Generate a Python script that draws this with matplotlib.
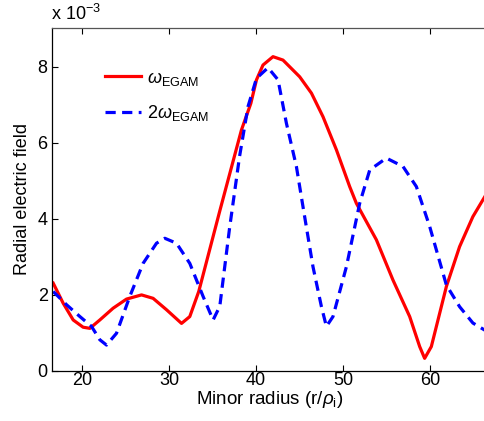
import matplotlib
matplotlib.use('Agg')
import matplotlib.pyplot as plt

# ── Data (field in units of 1e-3) ──────────────────────────────────────────
r_egam = [16.67, 17.82, 18.97, 20.11, 20.89, 22.03, 23.56, 25.10, 26.83, 28.16,
          29.70, 31.43, 32.38, 33.41, 35.83, 38.32, 39.40, 40.05, 40.80, 41.95,
          43.10, 45.02, 46.37, 47.70, 49.24, 50.77, 51.54, 53.84, 55.75, 57.67,
          58.82, 59.39, 60.16, 61.89, 63.41, 64.94, 66.40]
e_egam = [2.31, 1.78, 1.34, 1.15, 1.12, 1.34, 1.65, 1.89, 2.00, 1.91,
          1.61, 1.25, 1.43, 2.09, 4.21, 6.34, 7.04, 7.66, 8.05, 8.27,
          8.18, 7.74, 7.31, 6.69, 5.82, 4.85, 4.41, 3.45, 2.39, 1.43,
          0.64, 0.33, 0.64, 2.22, 3.27, 4.06, 4.62]

r_2egam = [16.67, 18.21, 19.74, 21.08, 22.03, 22.80, 23.95, 25.48, 27.01, 28.55,
           29.51, 30.85, 32.38, 33.91, 35.06, 35.83, 36.95, 38.10, 39.08, 40.05,
           41.38, 42.53, 43.49, 44.64, 45.40, 46.55, 47.52, 48.09, 48.85, 50.39,
           51.92, 53.08, 54.99, 56.90, 58.44, 59.97, 61.89, 63.41, 64.94, 66.40]
e_2egam = [2.09, 1.74, 1.43, 1.17, 0.82, 0.68, 0.99, 1.96, 2.83, 3.36,
           3.49, 3.36, 2.83, 1.96, 1.34, 1.70, 3.75, 5.64, 6.96, 7.70,
           7.98, 7.66, 6.52, 5.38, 4.32, 2.74, 1.69, 1.17, 1.43, 2.74,
           4.41, 5.29, 5.60, 5.38, 4.85, 3.80, 2.26, 1.69, 1.26, 1.06]

x_ticks = [20, 30, 40, 50, 60]
y_ticks = [0, 2, 4, 6, 8]

# ── Style ──────────────────────────────────────────────────────────────────
plt.rcParams['font.family'] = ['Liberation Sans', 'DejaVu Sans']
plt.rcParams['mathtext.fontset'] = 'custom'
plt.rcParams['mathtext.rm'] = 'Liberation Sans'
plt.rcParams['mathtext.it'] = 'Liberation Sans:italic'

fig = plt.figure(figsize=(4.85, 4.21), dpi=100)
ax = fig.add_axes([0.107, 0.119, 0.896, 0.815])

ax.plot(r_egam, e_egam, color='#ff0000', lw=2.3, label=r'$\omega_{\mathrm{EGAM}}$')
ax.plot(r_2egam, e_2egam, color='#0000ff', lw=2.3, dashes=(3.2, 2.0),
        label=r'$2\omega_{\mathrm{EGAM}}$')

ax.set_xlim(16.52, 66.5)
ax.set_ylim(0, 9.03)
ax.set_xticks(x_ticks)
ax.set_yticks(y_ticks)
ax.tick_params(direction='in', length=4, width=0.8, top=True, right=False,
               labelsize=13)
ax.tick_params(axis='x', pad=1)
ax.tick_params(axis='y', pad=3)
for s in ax.spines.values():
    s.set_linewidth(0.9)
ax.spines['top'].set_color('#555555')
ax.spines['right'].set_visible(False)

ax.set_xlabel(r'Minor radius (r/$\rho_{\mathrm{i}}$)', fontsize=13.5, labelpad=0)
ax.set_ylabel('Radial electric field', fontsize=13, labelpad=5)
fig.text(0.105, 0.942, r'x 10$^{-3}$', fontsize=13, ha='left', va='bottom')

ax.legend(loc='upper left', bbox_to_anchor=(0.085, 0.925), frameon=False,
          fontsize=13, handlelength=2.0, handletextpad=0.3, labelspacing=0.85)

plt.savefig('out.png', dpi=100)
